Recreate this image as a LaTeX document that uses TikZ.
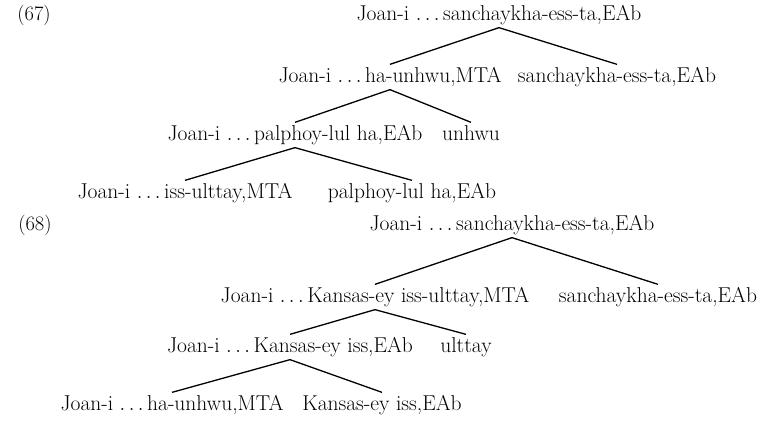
\documentclass[tikz,border=0pt]{standalone}
\usepackage{fontspec}
\begin{document}
\begin{tikzpicture}[
  x=1pt, y=-1pt,
  phrase/.style={inner xsep=0pt, inner ysep=2pt, text height=15.5pt, text depth=4.5pt,
    font=\fontsize{21.5}{25}\selectfont},
  exnum/.style={inner sep=0pt, font=\fontsize{20.5}{24}\selectfont},
  line width=1.3pt,
]
  \useasboundingbox (0,0) rectangle (774,422);

  % (67)
  \node[exnum] (n67) at (34, 15) {(67)};
  \node[phrase] (a0) at (499, 15) {Joan-i $\ldots$\,sanchaykha-ess-ta,EAb};
  \node[phrase] (a1) at (390, 77) {Joan-i $\ldots$\,ha-unhwu,MTA};
  \node[phrase] (a1r) at (617, 77) {sanchaykha-ess-ta,EAb};
  \node[phrase] (a2) at (295, 135) {Joan-i $\ldots$\,palphoy-lul ha,EAb};
  \node[phrase] (a2r) at (471, 135) {unhwu};
  \node[phrase] (a3) at (185, 193) {Joan-i $\ldots$\,iss-ulttay,MTA};
  \node[phrase] (a3r) at (412, 193) {palphoy-lul ha,EAb};

  \draw (a0.south) -- (a1.north);
  \draw (a0.south) -- (a1r.north);
  \draw (a1.south) -- (a2.north);
  \draw (a1.south) -- (a2r.north);
  \draw (a2.south) -- (a3.north);
  \draw (a2.south) -- (a3r.north);

  % (68)
  \node[exnum] (n68) at (35, 225) {(68)};
  \node[phrase] (b0) at (512, 225) {Joan-i $\ldots$\,sanchaykha-ess-ta,EAb};
  \node[phrase] (b1) at (375, 297) {Joan-i $\ldots$\,Kansas-ey iss-ulttay,MTA};
  \node[phrase] (b1r) at (658, 297) {sanchaykha-ess-ta,EAb};
  \node[phrase] (b2) at (290, 347) {Joan-i $\ldots$\,Kansas-ey iss,EAb};
  \node[phrase] (b2r) at (466, 347) {ulttay};
  \node[phrase] (b3) at (172, 405) {Joan-i $\ldots$\,ha-unhwu,MTA};
  \node[phrase] (b3r) at (382, 405) {Kansas-ey iss,EAb};

  \draw (b0.south) -- (b1.north);
  \draw (b0.south) -- (b1r.north);
  \draw (b1.south) -- (b2.north);
  \draw (b1.south) -- (b2r.north);
  \draw (b2.south) -- (b3.north);
  \draw (b2.south) -- (b3r.north);
\end{tikzpicture}
\end{document}
